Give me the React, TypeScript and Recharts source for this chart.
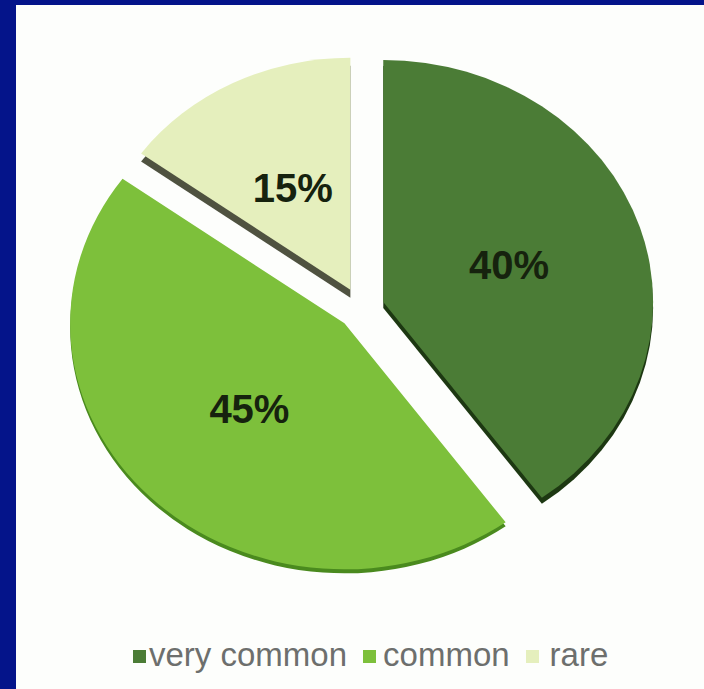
import { PieChart, Pie, Cell, Legend } from 'recharts'

const categories = ['very common', 'common', 'rare']
const shares = [40, 45, 15]
const faceColors = ['#4b7c36', '#7dc03b', '#e5efbd']
const edgeColors = ['#1d3812', '#4a8a1e', '#4f5240']

const data = categories.map((name, i) => ({ name, value: shares[i] }))

const RADIAN = Math.PI / 180
// the pie is stretched sideways to look like a tilted disc
const K = 1.115
const CX = 345
const CY = 303.5
const EXPLODE = 21
// nearer slices drawn a little bigger and thicker (fake perspective)
const radii = [242, 246, 232]
const depths = [6, 4, 8]
const iconGaps = [3, 7, 11]

const total = shares.reduce((a, b) => a + b, 0)
const midAngles = shares.map((v, i) => {
  const before = shares.slice(0, i).reduce((a, b) => a + b, 0)
  return 90 - ((before + v / 2) / total) * 360
})
const offX = (i: number) => EXPLODE * Math.cos(midAngles[i] * RADIAN)
const offY = (i: number) => -EXPLODE * Math.sin(midAngles[i] * RADIAN)

const renderLabel = (i: number) => (p: any) => {
  if (p.index !== i) return <g />
  const r = p.outerRadius * 0.49
  const x = p.cx + r * Math.cos(-p.midAngle * RADIAN)
  const y = p.cy + r * Math.sin(-p.midAngle * RADIAN)
  return (
    <text
      transform={`translate(${x},${y}) scale(${1 / K},1)`}
      textAnchor="middle"
      dominantBaseline="central"
      fill="#16220e"
      fontSize={40}
      fontWeight="bold"
      fontFamily='"Liberation Sans", Arial, sans-serif'
    >
      {`${Math.round(p.percent * 100)}%`}
    </text>
  )
}

function LegendContent() {
  return (
    <div
      style={{
        display: 'flex',
        alignItems: 'center',
        paddingLeft: 117,
        fontFamily: '"Liberation Sans", Arial, sans-serif',
        fontSize: 33,
        color: '#6d6f6d',
        lineHeight: '38px',
      }}
    >
      {categories.map((c, i) => (
        <div key={c} style={{ display: 'flex', alignItems: 'center', marginRight: 16 }}>
          <span
            style={{
              width: 13,
              height: 13,
              background: faceColors[i],
              marginRight: iconGaps[i],
              marginTop: 3,
            }}
          />
          {c}
        </div>
      ))}
    </div>
  )
}

export default function App() {
  return (
    <div
      style={{
        position: 'absolute',
        left: 0,
        top: 0,
        width: 704,
        height: 689,
        overflow: 'hidden',
        background: '#04148a',
      }}
    >
      <div
        style={{
          position: 'absolute',
          left: 16,
          top: 5,
          width: 688,
          height: 684,
          overflow: 'hidden',
          background: '#fdfefc',
        }}
      >
        <div style={{ transform: `scaleX(${K})`, transformOrigin: `${CX}px 0` }}>
          <PieChart width={688} height={684} margin={{ top: 0, right: 0, bottom: 0, left: 0 }}>
            {data.map((_, i) => (
              <Pie
                key={'edge' + i}
                data={data}
                dataKey="value"
                cx={CX + offX(i)}
                cy={CY + offY(i) + depths[i]}
                outerRadius={radii[i]}
                startAngle={90}
                endAngle={-270}
                stroke="none"
                legendType="none"
                isAnimationActive={false}
              >
                {data.map((d, j) => (
                  <Cell key={d.name} fill={j === i ? edgeColors[i] : 'transparent'} />
                ))}
              </Pie>
            ))}
            {data.map((_, i) => (
              <Pie
                key={'face' + i}
                data={data}
                dataKey="value"
                cx={CX + offX(i)}
                cy={CY + offY(i)}
                outerRadius={radii[i]}
                startAngle={90}
                endAngle={-270}
                stroke="none"
                label={renderLabel(i)}
                labelLine={false}
                isAnimationActive={false}
              >
                {data.map((d, j) => (
                  <Cell key={d.name} fill={j === i ? faceColors[i] : 'transparent'} />
                ))}
              </Pie>
            ))}
            <Legend
              content={<LegendContent />}
              wrapperStyle={{
                top: 631,
                left: 0,
                width: 688,
                transform: `scaleX(${1 / K})`,
                transformOrigin: `${CX}px 50%`,
              }}
            />
          </PieChart>
        </div>
      </div>
    </div>
  )
}
